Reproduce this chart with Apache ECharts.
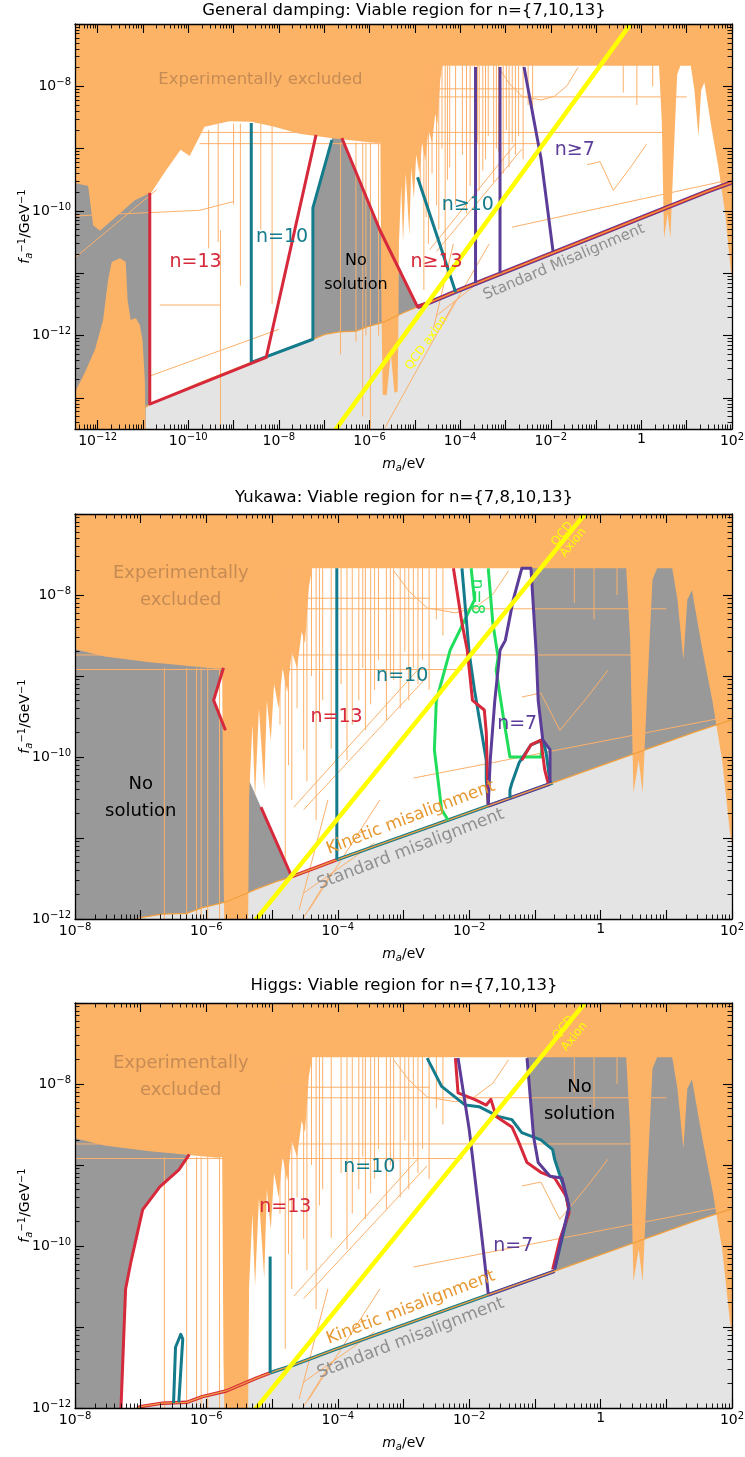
<!DOCTYPE html>
<html>
<head>
<meta charset="utf-8">
<script src="https://cdn.jsdelivr.net/npm/echarts@6/dist/echarts.min.js"></script>
<style>
  html, body { margin: 0; padding: 0; background: #ffffff; }
  #chart { width: 745px; height: 1457px; }
</style>
</head>
<body>
<div id="chart"></div>
<script>
// All coordinates are [log10(m_a / eV), log10(f_a^-1 / GeV^-1)].

// ---------- shared physics / experimental data ----------
const misalignment = [
  [-10.94, -13.15], [-10.85, -13.10], [-9.75, -12.76], [-8.61, -12.43], [-7.25, -12.06],
  [-6.985, -11.98], [-6.67, -11.94], [-6.30, -11.93], [-6.06, -11.86], [-5.70, -11.79],
  [-5.24, -11.63], [-4.94, -11.54], [-4.74, -11.49], [-4.02, -11.27], [-0.73, -10.32],
  [1.44, -9.69], [2.0, -9.54]
];

// lower edge of the experimentally excluded band
const excludedEdge = [
  [-12.5, -9.55], [-12.21, -9.60], [-12.10, -10.23], [-11.95, -10.32], [-11.62, -10.11],
  [-11.18, -9.83], [-10.81, -9.70], [-10.52, -9.38], [-10.17, -9.02], [-9.97, -9.12],
  [-9.64, -8.65], [-9.09, -8.56], [-8.61, -8.57], [-8.10, -8.65], [-7.55, -8.76],
  [-6.86, -8.83], [-6.46, -8.86], [-5.84, -8.91], [-5.76, -8.90],
  [-5.74, -11.40], [-5.71, -12.95], [-5.62, -12.96], [-5.53, -12.30], [-5.45, -12.92],
  [-5.38, -12.90], [-5.36, -11.60], [-5.35, -10.50], [-5.30, -9.60], [-5.26, -10.50],
  [-5.20, -9.40], [-5.12, -10.40], [-5.08, -9.30], [-5.02, -9.80], [-4.97, -9.10],
  [-4.90, -9.40], [-4.84, -8.90], [-4.77, -9.20], [-4.70, -8.70], [-4.62, -8.90],
  [-4.55, -8.45], [-4.50, -8.60], [-4.44, -7.90], [-4.39, -7.67],
  [0.39, -7.67], [0.45, -8.56], [0.50, -10.44], [0.58, -10.04], [0.64, -10.44],
  [0.71, -9.17], [0.79, -7.81], [0.86, -7.67], [1.09, -7.67], [1.17, -8.06],
  [1.26, -8.80], [1.32, -8.06], [1.39, -7.94], [1.47, -8.31], [1.55, -8.68],
  [1.70, -9.30], [1.85, -10.04], [1.97, -10.94], [2.0, -11.09]
];

// excluded island at the lowest masses
const excludedLowMass = [
  [-12.5, -13.5], [-12.5, -12.91], [-12.28, -12.59], [-12.06, -12.23], [-11.88, -11.75],
  [-11.77, -11.11], [-11.69, -10.82], [-11.51, -10.76], [-11.38, -10.82], [-11.34, -11.43],
  [-11.27, -11.75], [-11.16, -11.72], [-11.07, -11.83], [-11.01, -12.07], [-10.96, -12.71],
  [-10.94, -13.5]
];

// individual bounds drawn as thin lines: [mass, top, bottom]
const boundVertical = [
  [-9.55, -8.7, -10.6], [-9.34, -8.6, -10.5], [-9.0, -8.6, -9.9], [-8.85, -8.6, -11.2],
  [-8.40, -8.6, -10.3], [-8.15, -8.6, -11.5],
  [-6.64, -8.9, -12.3], [-6.30, -8.9, -12.1], [-6.15, -8.9, -13.3], [-6.08, -8.9, -12.0],
  [-5.98, -8.9, -13.5], [-5.80, -8.9, -12.0],
  [-4.88, -7.67, -9.6], [-4.80, -7.67, -11.27], [-4.75, -7.67, -10.1], [-4.70, -7.67, -10.53],
  [-4.62, -7.67, -9.4], [-4.52, -7.67, -9.91], [-4.47, -7.67, -10.3], [-4.40, -7.67, -9.0],
  [-4.33, -7.67, -10.78], [-4.28, -7.67, -9.5], [-4.23, -7.67, -9.30], [-4.10, -7.67, -9.9],
  [-3.95, -7.67, -9.1], [-3.86, -7.67, -10.04], [-3.78, -7.67, -9.6], [-3.68, -7.67, -9.30],
  [-3.62, -7.67, -8.9], [-3.58, -7.67, -9.67], [-3.50, -7.67, -9.35], [-3.44, -7.67, -9.17],
  [-3.38, -7.67, -8.8], [-3.26, -7.67, -9.54], [-3.20, -7.67, -9.0], [-3.15, -7.67, -9.05],
  [-3.05, -7.67, -9.4], [-2.98, -7.67, -8.7], [-2.92, -7.67, -9.30], [-2.85, -7.67, -8.9],
  [-2.78, -7.67, -9.1], [-2.71, -7.67, -8.80], [-2.61, -7.67, -9.17], [-2.50, -7.67, -8.3],
  [-2.40, -7.67, -8.5], [-0.40, -7.67, -8.1], [-0.10, -7.67, -8.3], [0.25, -7.67, -8.0]
];
// [coupling, left mass, right mass]
const boundHorizontal = [
  [-8.17, -4.95, 1.0], [-8.04, -4.95, -2.6], [-8.74, -9.75, 0.47], [-8.92, -9.75, -2.1]
];
const boundPaths = [
  [[-12.48, -10.74], [-10.70, -9.66]],
  [[-12.48, -10.08], [-9.75, -9.99], [-9.0, -9.85]],
  [[-10.85, -12.65], [-8.0, -11.9]],
  [[-10.63, -11.51], [-9.29, -11.51], [-9.29, -13.5]],
  [[-9.29, -10.31], [-9.29, -11.51]],
  [[-4.67, -10.62], [-2.79, -8.93]],
  [[-4.52, -10.65], [-2.64, -9.01]],
  [[-4.59, -11.89], [-4.15, -10.53]],
  [[-4.44, -11.89], [-3.36, -10.53]],
  [[-4.52, -11.68], [-3.44, -11.06]],
  [[-5.66, -13.48], [-4.10, -11.43]],
  [[-1.20, -9.26], [-0.91, -9.21], [-0.62, -9.67], [-0.20, -9.26], [0.11, -8.93]],
  [[-2.85, -10.26], [1.96, -9.50]],
  [[-3.15, -7.70], [-2.92, -7.95], [-2.64, -8.16], [-2.21, -8.22], [-1.92, -8.16], [-1.64, -7.99], [-1.4, -7.7]]
];

const qcdAxion = [[-8.0, -14.76], [0.5, -6.26]];

// ---------- general damping ----------
const dampingViable = [
  [[-10.85, -13.6], [-10.85, -8.38], [-6.83, -8.38], [-6.83, -8.86], [-7.25, -9.95], [-7.25, -13.6]],
  [[-6.61, -7.4], [-6.61, -8.83], [-5.77, -10.31], [-4.94, -11.54], [-4.94, -13.6], [2.1, -13.6], [2.1, -7.4]]
];
const dampingN13 = [
  [[-10.85, -9.71], [-10.85, -13.10], [-8.28, -12.35], [-7.18, -8.78]],
  [[-6.61, -8.83], [-5.77, -10.31], [-4.94, -11.54], [-4.70, -11.47]]
];
const dampingN10 = [
  [[-8.61, -8.59], [-8.61, -12.43], [-7.25, -12.06], [-7.25, -9.95], [-6.83, -8.86]],
  [[-4.94, -9.46], [-4.10, -11.30]]
];
const dampingN7 = [
  [[-3.66, -7.69], [-3.66, -11.16]],
  [[-3.12, -7.69], [-3.12, -11.0]],
  [[-2.59, -7.69], [-2.21, -9.18], [-1.95, -10.65]]
];

// ---------- Yukawa ----------
const yukawaViable = [
  [[-5.74, -7.4], [-5.74, -8.90], [-5.89, -9.30], [-5.71, -9.67], [-5.42, -10.16], [-5.17, -10.62],
   [-4.70, -11.48], [-4.70, -12.2], [-0.77, -12.2], [-0.77, -9.91], [-0.88, -9.79], [-0.95, -9.30],
   [-0.98, -8.72], [-1.03, -8.06], [-1.06, -7.67], [-1.06, -7.4]]
];
const yukawaN13 = [
  [[-5.74, -8.90], [-5.89, -9.30], [-5.71, -9.67]],
  [[-5.17, -10.62], [-4.70, -11.48]],
  [[-2.24, -7.67], [-2.11, -8.35], [-2.03, -8.68], [-1.95, -9.30], [-1.77, -9.42], [-1.74, -9.70], [-1.71, -10.59]],
  [[-1.20, -10.04], [-1.06, -9.85], [-0.91, -9.79], [-0.85, -10.16], [-0.80, -10.32]]
];
const yukawaN10 = [
  [[-4.015, -7.67], [-4.015, -11.27]],
  [[-2.11, -7.67], [-2.0, -8.72], [-1.92, -9.17], [-1.74, -10.04], [-1.74, -10.28], [-1.71, -10.59]],
  [[-1.38, -10.51], [-1.38, -10.41], [-1.35, -10.32], [-1.24, -10.07], [-1.06, -9.85], [-0.88, -9.79], [-0.83, -9.94], [-0.77, -10.32]]
];
const yukawaN8 = [
  [[-1.97, -7.67], [-1.92, -8.06], [-2.14, -8.43], [-2.29, -8.68], [-2.50, -9.30], [-2.53, -9.91], [-2.42, -10.65], [-2.32, -10.78]],
  [[-1.71, -7.67], [-1.64, -8.35], [-1.56, -8.77], [-1.59, -8.93], [-1.48, -9.51], [-1.38, -10.0], [-0.91, -10.0], [-0.88, -9.83]]
];
const yukawaN7 = [
  [[-1.71, -10.59], [-1.68, -10.04], [-1.61, -9.30], [-1.53, -8.68], [-1.45, -8.56], [-1.33, -8.06], [-1.20, -7.67],
   [-1.06, -7.67], [-1.03, -8.06], [-0.98, -8.72], [-0.95, -9.30], [-0.88, -9.79], [-0.77, -9.91], [-0.77, -10.32]]
];

// ---------- Higgs ----------
const higgsViable = [
  [[-7.30, -12.2], [-7.30, -12.0], [-7.23, -10.53], [-7.15, -10.20], [-6.97, -9.55], [-6.71, -9.27],
   [-6.42, -9.06], [-6.26, -8.87], [-6.2, -8.6], [-6.2, -7.4], [-1.12, -7.4], [-1.12, -7.68],
   [-1.02, -8.65], [-0.91, -8.69], [-0.73, -8.81], [-0.70, -8.93], [-0.55, -9.30], [-0.48, -9.55],
   [-0.59, -9.92], [-0.70, -10.29], [-0.70, -12.2]]
];
const higgsN13 = [
  [[-7.30, -12.0], [-7.23, -10.53], [-7.15, -10.20], [-6.97, -9.55], [-6.71, -9.27], [-6.42, -9.06], [-6.26, -8.87]],
  [[-2.21, -7.68], [-2.17, -8.11], [-1.92, -8.19], [-1.74, -8.26], [-1.67, -8.19], [-1.59, -8.40], [-1.35, -8.53],
   [-1.26, -8.69], [-1.20, -8.81], [-1.12, -8.97], [-0.91, -9.09], [-0.70, -9.16], [-0.52, -9.39], [-0.48, -9.59],
   [-0.62, -9.92], [-0.73, -10.29]]
];
const higgsN10 = [
  [[-6.50, -11.94], [-6.47, -11.25], [-6.39, -11.09], [-6.36, -11.15], [-6.42, -11.93]],
  [[-5.03, -10.13], [-5.03, -11.57]],
  [[-2.64, -7.68], [-2.42, -8.03], [-2.06, -8.26], [-1.85, -8.28], [-1.56, -8.40], [-1.35, -8.44], [-1.20, -8.60],
   [-0.91, -8.69], [-0.73, -8.81], [-0.70, -8.93], [-0.55, -9.30], [-0.48, -9.55], [-0.59, -9.92], [-0.70, -10.29]]
];
const higgsN7 = [
  [[-2.17, -7.68], [-2.0, -8.56], [-1.95, -8.90], [-1.82, -9.80], [-1.71, -10.59]],
  [[-1.12, -7.68], [-1.02, -8.65], [-0.95, -8.97], [-0.77, -9.14], [-0.59, -9.16], [-0.48, -9.51], [-0.62, -10.0], [-0.70, -10.29]]
];

// ---------- styling ----------
const FONT = "'DejaVu Sans', sans-serif";
const C = {
  orange: '#fdb366', orangeLine: '#fcb06a', edge: '#f0a040',
  dark: '#999999', light: '#e4e4e4',
  red: '#d62a3c', teal: '#137b8b', purple: '#5b3c98', green: '#20de5c', yellow: '#ffff00',
  exclText: '#c68b54', kinetic: '#e7972f', standard: '#8f8f8f'
};

const panels = [
  {
    title: 'General damping: Viable region for n={7,10,13}', titleY: 11, top: 24,
    x: [-12.5, 2], y: [-13.5, -7],
    viable: dampingViable,
    contours: [[dampingN10, C.teal], [dampingN13, C.red], [dampingN7, C.purple]],
    stripes: [{c: C.purple, a: -4.94, b: 2, w: 4.5}, {c: C.red, a: -4.94, b: 2, w: 2.8}],
    labels: [
      {at: [-8.41, -7.90], text: 'Experimentally excluded', color: C.exclText, size: 16.5},
      {at: [-9.84, -10.82], text: 'n=13', color: C.red, size: 19},
      {at: [-7.93, -10.42], text: 'n=10', color: C.teal, size: 19},
      {at: [-6.30, -11.0], text: 'No\nsolution', color: '#000', size: 16, lh: 24},
      {at: [-4.52, -10.82], text: 'n\u226513', color: C.red, size: 19},
      {at: [-3.83, -9.91], text: 'n\u226510', color: C.teal, size: 19},
      {at: [-1.47, -9.02], text: 'n\u22657', color: C.purple, size: 19},
      {at: [-1.71, -10.82], text: 'Standard Misalignment', color: C.standard, size: 15, rotate: 23},
      {at: [-4.74, -12.12], text: 'QCD axion', color: C.yellow, size: 12, rotate: 54}
    ]
  },
  {
    title: 'Yukawa: Viable region for n={7,8,10,13}', titleY: 498, top: 514,
    x: [-8, 2], y: [-12, -7],
    viable: yukawaViable,
    contours: [[yukawaN8, C.green], [yukawaN10, C.teal], [yukawaN13, C.red], [yukawaN7, C.purple]],
    stripes: [{c: C.red, a: -4.70, b: -4.02, w: 3.5}, {c: C.teal, a: -4.02, b: -0.73, w: 3.5}, {c: C.purple, a: -1.71, b: -0.77, w: 3.5}],
    labels: [
      {at: [-6.39, -7.90], text: 'Experimentally\nexcluded', color: C.exclText, size: 18, lh: 27},
      {at: [-3.02, -9.0], text: 'n=10', color: C.teal, size: 19},
      {at: [-4.02, -9.51], text: 'n=13', color: C.red, size: 19},
      {at: [-1.27, -9.59], text: 'n=7', color: C.purple, size: 19},
      {at: [-1.89, -8.02], text: 'n=8', color: C.green, size: 17, rotate: -90},
      {at: [-7.0, -10.51], text: 'No\nsolution', color: '#000', size: 18, lh: 27},
      {at: [-2.89, -10.75], text: 'Kinetic misalignment', color: C.kinetic, size: 17, rotate: 21},
      {at: [-2.89, -11.14], text: 'Standard misalignment', color: C.standard, size: 17, rotate: 21},
      {at: [-0.50, -7.30], text: 'QCD\nAxion', color: C.yellow, size: 12, rotate: 51, lh: 14}
    ]
  },
  {
    title: 'Higgs: Viable region for n={7,10,13}', titleY: 986, top: 1003,
    x: [-8, 2], y: [-12, -7],
    viable: higgsViable,
    contours: [[higgsN10, C.teal], [higgsN13, C.red], [higgsN7, C.purple]],
    stripes: [{c: C.red, a: -7.05, b: -5.03, w: 3.5}, {c: C.teal, a: -5.03, b: -0.70, w: 3.5}, {c: C.purple, a: -1.71, b: -0.70, w: 3.5}],
    labels: [
      {at: [-6.39, -7.91], text: 'Experimentally\nexcluded', color: C.exclText, size: 18, lh: 27},
      {at: [-0.32, -8.21], text: 'No\nsolution', color: '#000', size: 18, lh: 27},
      {at: [-3.52, -9.02], text: 'n=10', color: C.teal, size: 19},
      {at: [-4.80, -9.52], text: 'n=13', color: C.red, size: 19},
      {at: [-1.33, -10.0], text: 'n=7', color: C.purple, size: 19},
      {at: [-2.89, -10.76], text: 'Kinetic misalignment', color: C.kinetic, size: 17, rotate: 21},
      {at: [-2.89, -11.14], text: 'Standard misalignment', color: C.standard, size: 17, rotate: 21},
      {at: [-0.48, -7.36], text: 'QCD\nAxion', color: C.yellow, size: 12, rotate: 51, lh: 14}
    ]
  }
];

// ---------- helpers ----------
function majorTicks(r) {
  const out = [];
  for (let n = Math.ceil(r[0]); n <= Math.floor(r[1]); n++) out.push(n);
  return out;
}
function minorTicks(r) {
  const out = [];
  for (let n = Math.floor(r[0]); n <= Math.ceil(r[1]); n++) {
    for (let k = 2; k <= 9; k++) {
      const v = n + Math.log10(k);
      if (v > r[0] + 1e-9 && v < r[1] - 1e-9) out.push(v);
    }
  }
  return out;
}
function powerLabel(e) {
  if (e === 0) return '1';
  return '10{s|' + (e < 0 ? '\u2212' : '') + Math.abs(e) + '}';
}
// part of a polyline between two masses
function along(line, a, b) {
  const at = x => {
    for (let i = 0; i < line.length - 1; i++) {
      const [x0, y0] = line[i], [x1, y1] = line[i + 1];
      if (x >= x0 && x <= x1) return [x, y0 + (y1 - y0) * (x - x0) / (x1 - x0)];
    }
    return line[line.length - 1];
  };
  return [at(a)].concat(line.filter(p => p[0] > a && p[0] < b), [at(b)]);
}

const tickRich = {s: {fontSize: 10, fontFamily: FONT, padding: [0, 0, 8, 0]}};
const nameRich = {
  i: {fontStyle: 'italic', fontSize: 14, fontFamily: FONT},
  sub: {fontStyle: 'italic', fontSize: 10, fontFamily: FONT, padding: [7, 0, 0, 0]},
  sup: {fontSize: 10, fontFamily: FONT, padding: [0, 0, 7, 0]}
};

function axisPair(gi, range, position, frame, label, name) {
  const major = majorTicks(range), minor = minorTicks(range);
  const base = {gridIndex: gi, type: 'value', min: range[0], max: range[1], position, z: 10, silent: true, splitLine: {show: false}};
  const main = Object.assign({}, base, {
    axisLine: {show: frame, onZero: false, lineStyle: {color: '#000', width: 1.3}},
    axisTick: {show: true, inside: true, length: 9, customValues: major, lineStyle: {color: '#000', width: 1.1}},
    axisLabel: label ? {
      show: true, customValues: major.filter(e => e % 2 === 0),
      formatter: v => powerLabel(Math.round(v)),
      margin: label.margin, color: '#000', fontSize: 14, fontFamily: FONT, rich: tickRich
    } : {show: false}
  });
  if (name) Object.assign(main, name);
  const minorAxis = Object.assign({}, base, {
    axisLine: {show: false, onZero: false},
    axisTick: {show: true, inside: true, length: 4.5, customValues: minor, lineStyle: {color: '#000', width: 0.9}},
    axisLabel: {show: false}
  });
  return [main, minorAxis];
}

const grids = [], xAxes = [], yAxes = [], series = [];

function shapeSeries(ax, shapes, kind, style, z) {
  return {
    type: 'custom', xAxisIndex: ax.x, yAxisIndex: ax.y, z, silent: true, animation: false, clip: true,
    data: shapes.map((s, i) => [s[0][0], s[0][1], i]),
    encode: {x: 0, y: 1},
    renderItem: (params, api) => ({
      type: kind,
      shape: {points: shapes[api.value(2)].map(pt => api.coord(pt))},
      style: Object.assign({}, style)
    })
  };
}
function textSeries(ax, items, z) {
  return {
    type: 'custom', xAxisIndex: ax.x, yAxisIndex: ax.y, z, silent: true, animation: false, clip: true,
    data: items.map((t, i) => [t.at[0], t.at[1], i]),
    encode: {x: 0, y: 1},
    renderItem: (params, api) => {
      const t = items[api.value(2)];
      const c = api.coord(t.at);
      return {
        type: 'text', x: c[0], y: c[1], rotation: (t.rotate || 0) * Math.PI / 180,
        style: {text: t.text, fill: t.color, font: t.size + 'px ' + FONT, align: 'center', verticalAlign: 'middle', lineHeight: t.lh || Math.round(t.size * 1.2)}
      };
    }
  };
}

const excludedRegion = [[-12.6, -6.9], [-12.6, excludedEdge[0][1]]].concat(excludedEdge, [[2.1, excludedEdge[excludedEdge.length - 1][1]], [2.1, -6.9]]);
const lightRegion = misalignment.concat([[2.1, -14], [misalignment[0][0], -14]]);
const thinLines = boundVertical.map(v => [[v[0], v[1]], [v[0], v[2]]])
  .concat(boundHorizontal.map(h => [[h[1], h[0]], [h[2], h[0]]]), boundPaths);

panels.forEach((p, gi) => {
  grids.push({
    left: 75, top: p.top, width: 657, height: 405, containLabel: false, outerBoundsMode: 'none',
    show: true, backgroundColor: C.dark, borderWidth: 0
  });
  const ax = {x: xAxes.length, y: yAxes.length};
  xAxes.push(...axisPair(gi, p.x, 'bottom', true, {margin: 3}, {
    name: '{i|m}{sub|a}/eV', nameLocation: 'middle', nameGap: 27, nameMoveOverlap: false,
    nameTextStyle: {color: '#000', fontSize: 14, fontFamily: FONT, rich: nameRich}
  }));
  xAxes.push(...axisPair(gi, p.x, 'top', true, null, null));
  yAxes.push(...axisPair(gi, p.y, 'left', true, {margin: 4}, {
    name: '{i|f}{sub|a}{sup|\u22121}/GeV{sup|\u22121}', nameLocation: 'middle', nameGap: 41, nameRotate: 90, nameMoveOverlap: false,
    nameTextStyle: {color: '#000', fontSize: 14, fontFamily: FONT, rich: nameRich}
  }));
  yAxes.push(...axisPair(gi, p.y, 'right', true, null, null));

  const poly = (shapes, style, z) => series.push(shapeSeries(ax, shapes, 'polygon', style, z));
  const line = (shapes, style, z) => series.push(shapeSeries(ax, shapes, 'polyline', Object.assign({fill: 'none', lineJoin: 'round'}, style), z));

  poly(p.viable, {fill: '#ffffff'}, 1);
  poly([lightRegion], {fill: C.light}, 2);
  poly([excludedRegion, excludedLowMass], {fill: C.orange}, 3);
  line(thinLines, {stroke: C.orangeLine, lineWidth: 1}, 4);
  p.stripes.forEach(s => line([along(misalignment, s.a, s.b)], {stroke: s.c, lineWidth: s.w}, 5));
  line([misalignment], {stroke: C.edge, lineWidth: 1.3}, 6);
  p.contours.forEach(([shapes, color]) => line(shapes, {stroke: color, lineWidth: 3}, 7));
  line([qcdAxion], {stroke: C.yellow, lineWidth: 4.5}, 8);
  series.push(textSeries(ax, p.labels, 9));
});

const chart = echarts.init(document.getElementById('chart'), null, {renderer: 'canvas'});
chart.setOption({
  animation: false,
  backgroundColor: '#ffffff',
  grid: grids,
  xAxis: xAxes,
  yAxis: yAxes,
  series,
  graphic: panels.map(p => ({
    type: 'text', x: 404, y: p.titleY, silent: true,
    style: {text: p.title, font: '16.5px ' + FONT, fill: '#000', align: 'center', verticalAlign: 'middle'}
  }))
});
</script>
</body>
</html>
